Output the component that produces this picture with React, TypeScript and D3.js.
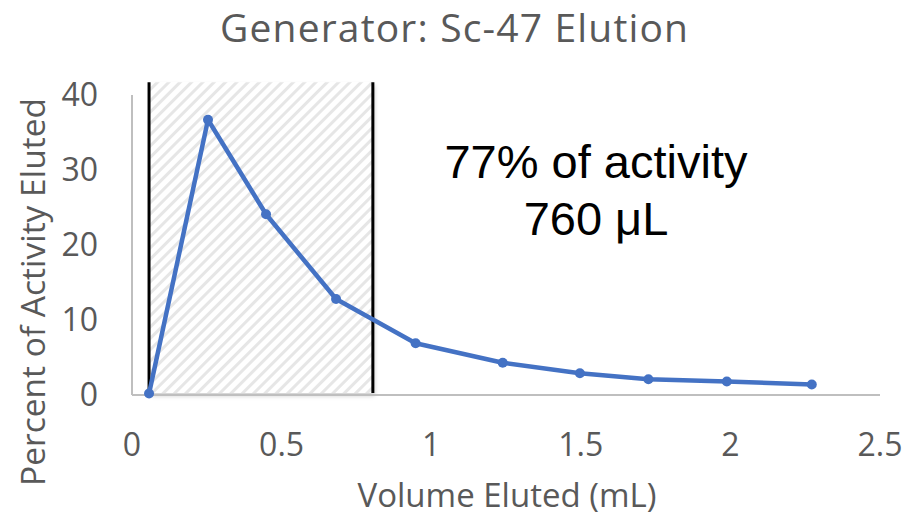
import React, { useEffect, useRef } from 'react';
import * as d3 from 'd3';

const volumeMl = [0.057, 0.254, 0.448, 0.682, 0.948, 1.239, 1.497, 1.726, 1.988, 2.272];
const percentEluted = [0.2, 36.7, 24.1, 12.8, 6.9, 4.3, 2.9, 2.1, 1.8, 1.4];
const xTicks = [0, 0.5, 1, 1.5, 2, 2.5];
const yTicks = [0, 10, 20, 30, 40];
const shadeRange = [0.057, 0.805];
const shadeTop = 41.7;
const noteLines = ['77% of activity', '760 μL'];

function App() {
  const ref = useRef<SVGSVGElement>(null);

  useEffect(() => {
    const W = 907, H = 517;
    const svg = d3.select(ref.current);
    svg.selectAll('*').remove();

    var x = d3.scaleLinear().domain([0, 2.5]).range([132, 880]);
    var y = d3.scaleLinear().domain([0, 40]).range([395, 95]);

    const defs = svg.append('defs');
    const pat = defs.append('pattern')
      .attr('id', 'hatch')
      .attr('patternUnits', 'userSpaceOnUse')
      .attr('width', 8)
      .attr('height', 8)
      .attr('patternTransform', 'rotate(45)');
    pat.append('rect').attr('width', 8).attr('height', 8).attr('fill', '#fff');
    pat.append('rect').attr('x', 0).attr('width', 3).attr('height', 8).attr('fill', '#e6e6e6');

    const shadow = defs.append('filter').attr('id', 'shadow')
      .attr('x', '-10%').attr('y', '-10%').attr('width', '130%').attr('height', '130%');
    shadow.append('feDropShadow')
      .attr('dx', 2).attr('dy', 3).attr('stdDeviation', 2)
      .attr('flood-color', '#000').attr('flood-opacity', 0.18);

    svg.append('rect').attr('width', W).attr('height', H).attr('fill', '#fff');

    // title
    svg.append('text')
      .attr('x', 454).attr('y', 42)
      .attr('text-anchor', 'middle')
      .attr('font-family', 'Open Sans')
      .attr('font-size', 39)
      .attr('textLength', 468)
      .attr('lengthAdjust', 'spacing')
      .attr('fill', '#595959')
      .text('Generator: Sc-47 Elution');

    // shaded region
    svg.append('rect')
      .attr('x', x(shadeRange[0]))
      .attr('y', y(shadeTop))
      .attr('width', x(shadeRange[1]) - x(shadeRange[0]))
      .attr('height', y(0) - 2 - y(shadeTop))
      .attr('fill', 'url(#hatch)')
      .attr('filter', 'url(#shadow)');

    // axes lines
    svg.append('line')
      .attr('x1', x(0)).attr('x2', x(0))
      .attr('y1', y(40)).attr('y2', y(0))
      .attr('stroke', '#bfbfbf').attr('stroke-width', 2);
    svg.append('line')
      .attr('x1', x(0)).attr('x2', x(2.5))
      .attr('y1', y(0)).attr('y2', y(0))
      .attr('stroke', '#bfbfbf').attr('stroke-width', 2);

    // boundary lines
    svg.selectAll('.bound')
      .data(shadeRange)
      .enter().append('line')
      .attr('x1', d => x(d)).attr('x2', d => x(d))
      .attr('y1', y(shadeTop)).attr('y2', y(0) - 2)
      .attr('stroke', '#000').attr('stroke-width', 3);

    // tick labels
    svg.selectAll('.xt')
      .data(xTicks)
      .enter().append('text')
      .attr('x', d => x(d)).attr('y', 456)
      .attr('text-anchor', 'middle')
      .attr('font-family', 'Open Sans')
      .attr('font-size', 32)
      .attr('fill', '#595959')
      .text(d => String(d));
    svg.selectAll('.yt')
      .data(yTicks)
      .enter().append('text')
      .attr('x', 98).attr('y', d => y(d))
      .attr('dy', '0.35em')
      .attr('text-anchor', 'end')
      .attr('font-family', 'Open Sans')
      .attr('font-size', 32)
      .attr('fill', '#595959')
      .text(d => String(d));

    // axis titles
    svg.append('text')
      .attr('x', 507).attr('y', 507)
      .attr('text-anchor', 'middle')
      .attr('font-family', 'Open Sans')
      .attr('font-size', 33)
      .attr('fill', '#595959')
      .text('Volume Eluted (mL)');
    svg.append('text')
      .attr('transform', 'translate(45,292) rotate(-90)')
      .attr('text-anchor', 'middle')
      .attr('font-family', 'Open Sans')
      .attr('font-size', 33.5)
      .attr('fill', '#595959')
      .text('Percent of Activity Eluted');

    // series
    const pts = volumeMl.map((v, i) => [v, percentEluted[i]] as [number, number]);
    const line = d3.line<[number, number]>().x(d => x(d[0])).y(d => y(d[1]));
    svg.append('path')
      .datum(pts)
      .attr('d', line)
      .attr('fill', 'none')
      .attr('stroke', '#4472c4')
      .attr('stroke-width', 4.5)
      .attr('stroke-linejoin', 'round');
    svg.selectAll('.pt')
      .data(pts)
      .enter().append('circle')
      .attr('cx', d => x(d[0])).attr('cy', d => y(d[1]))
      .attr('r', 5)
      .attr('fill', '#4472c4');

    // annotation
    svg.selectAll('.note')
      .data(noteLines)
      .enter().append('text')
      .attr('x', 596).attr('y', (d, i) => 178 + i * 57)
      .attr('text-anchor', 'middle')
      .attr('font-family', 'Liberation Sans')
      .attr('font-size', 47)
      .attr('fill', '#000')
      .text(d => d);
  }, []);

  return (
    <svg ref={ref} width={907} height={517} style={{ position: 'absolute', left: 0, top: 0 }}></svg>
  );
}

export default App;
